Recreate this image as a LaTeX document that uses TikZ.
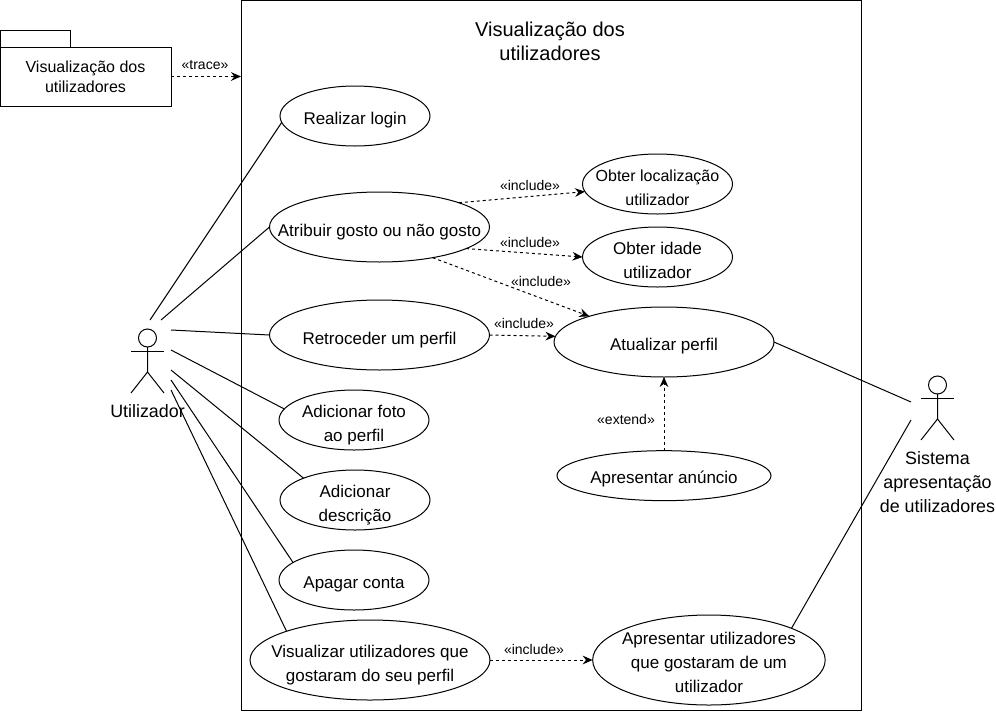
\documentclass[tikz,border=0pt]{standalone}
\usepackage{fontspec}
\setmainfont{Liberation Sans}
\usetikzlibrary{shapes.geometric,arrows.meta,positioning}

\newcommand{\casetop}[1][18pt]{\rule{0pt}{#1}}

\begin{document}
\begin{tikzpicture}[
        x=0.75pt, y=-0.75pt,
        line width=0.75pt,
        case/.style={draw, ellipse, fill=white, outer sep=0pt, inner xsep=-60pt, inner ysep=-30pt, align=center, minimum width=112.5pt, minimum height=45pt, font=\fontsize{12.75}{18}\selectfont, execute at end node={\rule[-3.5pt]{0pt}{3.5pt}}},
        widecase/.style={case, minimum width=165pt, minimum height=52.5pt},
        box/.style={draw, rectangle, outer sep=0pt, inner sep=0pt, align=center, font=\fontsize{12}{15}\selectfont},
        tag/.style={inner sep=0pt, font=\fontsize{10.5}{12}\selectfont},
        person/.style={inner sep=0pt, align=center, font=\fontsize{13.4}{18}\selectfont},
        assoc/.style={draw},
        dep/.style={draw, dash pattern=on 2.25pt off 2.25pt, -{Stealth[length=7.5pt,width=6.5pt,inset=2.5pt]}},
        actor/.pic={
            \draw (0,-55) circle (9);
            \draw (-16.5,-42) -- (16.5,-42);
            \draw (0,-46) -- (0,-21) (-16.5,0) -- (0,-21) -- (16.5,0);
        }
    ]
    \useasboundingbox (0,0) rectangle (996,711);

    % Package and system boundary
    \node [box, minimum width=128.25pt, minimum height=44.25pt] (pkg) at (85.5,76.5) {Visualização dos\\utilizadores};
    \node [box, above right=0pt of pkg.north west, minimum width=52.5pt, minimum height=12.75pt] (pkgtab) {};
    \node [box, minimum width=465pt, minimum height=532.5pt] (frame) at (551,355) {};
    \node [person, below=16.25pt of frame.north, xshift=-0.75pt, font=\fontsize{15}{18}\selectfont] (title) {Visualização dos\\utilizadores};

    % Use cases on the left
    \node [case] (login) at (355,116) {\casetop[16.5pt]Realizar login};
    \node [widecase, below=34.5pt of login, xshift=18.375pt] (gosto) {\casetop Atribuir gosto ou não gosto};
    \node [widecase, below=28.5pt of gosto] (retro) {\casetop Retroceder um perfil};
    \node [case, below=15pt of retro, xshift=-19.125pt] (foto) {\casetop Adicionar foto\\ao perfil};
    \node [case, below=15pt of foto, xshift=0.75pt] (descr) {\casetop Adicionar\\descrição};
    \node [case, below=15pt of descr, xshift=-0.75pt] (apagar) {\casetop[16.5pt]Apagar conta};
    \node [case, below=7.5pt of apagar, xshift=12pt, minimum width=180pt, minimum height=60pt] (visual) {\casetop Visualizar utilizadores que\\gostaram do seu perfil};

    % Use cases on the right
    \node [widecase, right=48.375pt of retro, yshift=-5.25pt] (atual) {\casetop[16.5pt]Atualizar perfil};
    \node [case, below=55.25pt of atual, minimum width=160.5pt, minimum height=37.5pt] (anuncio) {\casetop[15.5pt]Apresentar anúncio};
    \node [case, above=15pt of atual, xshift=-4.875pt] (idade) {\casetop Obter idade\\utilizador};
    \node [case, above=9.75pt of idade, font=\fontsize{12}{18}\selectfont] (local) {\casetop Obter localização\\utilizador};
    \node [case, right=77pt of visual, minimum width=174.4pt, minimum height=67.5pt] (aprutil) {\casetop[16.5pt]Apresentar utilizadores\\que gostaram de um\\utilizador};

    % Actors
    \pic at (147.5,393) {actor};
    \node [person] (utiliz) at (147.5,411) {Utilizador};
    \pic at (937.5,440) {actor};
    \node [person] (sistema) at (937.5,482) {Sistema\\apresentação\\de utilizadores};

    % Free ends next to the actors
    \coordinate (ua) at (150,320);
    \coordinate (ub) at (161,320);
    \coordinate (uc) at (171,330);
    \coordinate (ud) at (171,350);
    \coordinate (ue) at (171,370);
    \coordinate (uf) at (171,380);
    \coordinate (ug) at (171,390);
    \coordinate (sa) at (911,402);
    \coordinate (sb) at (911,420);

    % Connections - Utilizador
    \path [assoc] (ua) -- (login.185.7);
    \path [assoc] (ub) -- (gosto.west);
    \path [assoc] (uc) -- (retro.west);
    \path [assoc] (ud) -- (foto.171.6);
    \path [assoc] (ue) -- (descr.157.9);
    \path [assoc] (uf) -- (apagar.164.5);
    \path [assoc] (ug) -- (visual.161);

    % Connections - Sistema
    \path [assoc] (atual.east) -- (sa);
    \path [assoc] (aprutil.21.6) -- (sb);

    % Connections - Dependencies
    \path [dep] (pkg.east) -- (pkg.east -| frame.west);
    \path [dep] (gosto.17) -- (local.186);
    \path [dep] (gosto.-14.2) -- (idade.west);
    \path [dep] (gosto.-30.6) -- (atual.161.8);
    \path [dep] (retro.east) -- (atual.177);
    \path [dep] (anuncio.north) -- (atual.south);
    \path [dep] (visual.east) -- (aprutil.west);

    % Stereotype labels
    \node [tag] (ltrace) at (205,65) {«trace»};
    \node [tag] (lloc) at (530,185) {«include»};
    \node [tag] (lidade) at (530,242) {«include»};
    \node [tag] (latual) at (541,281) {«include»};
    \node [tag] (lretro) at (524,323) {«include»};
    \node [tag] (lext) at (626,419) {«extend»};
    \node [tag] (lvisual) at (534,649) {«include»};

\end{tikzpicture}
\end{document}
